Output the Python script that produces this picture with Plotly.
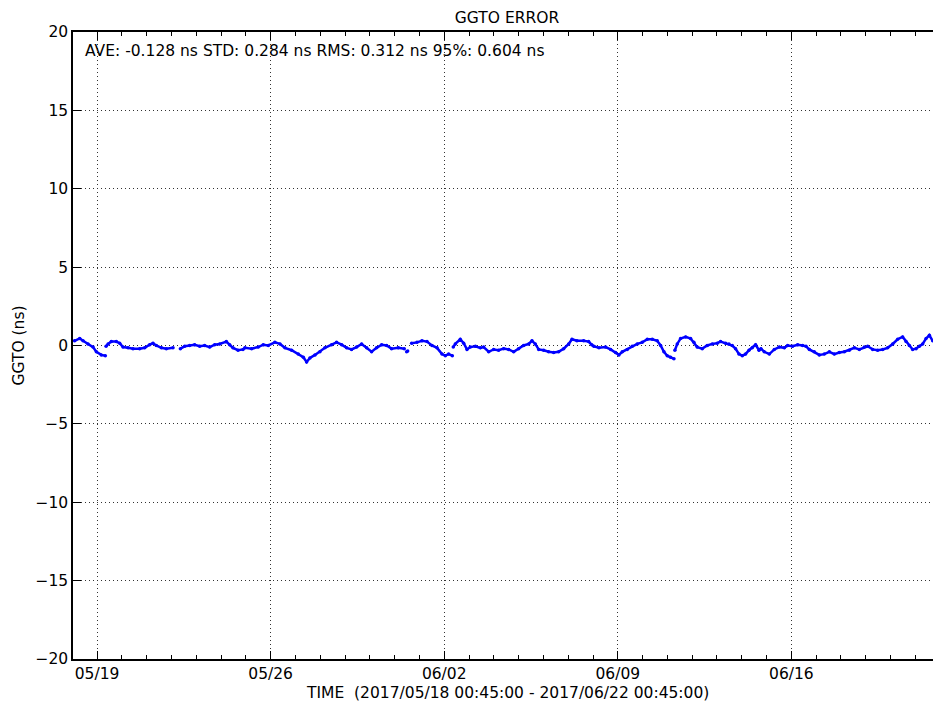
import pandas as pd
import plotly.graph_objects as go

# Time axis: hours elapsed since the start of the record, GGTO error in ns.
# None marks a break in the record.
start_time = "2017-05-18 00:45"
hours = [
    1.6, 6.5, 9.7, 14.5, 19.4, 22.6, 27.4, 31.3, 31.6,
    32.0, 34.0, 37.1, 41.9, 45.2, 48.4, 53.2, 58.1, 64.5, 69.4, 74.2, 77.4,
    80.6, 85.5, 90.3, 96.8, 100.0,
    103.9, 108.1, 112.9, 117.7, 122.6, 127.4, 132.3, 137.1, 141.9, 148.4,
    151.6, 154.8, 159.7, 164.5, 166.4, 172.9, 179.3, 184.1, 189.0, 195.4,
    200.3, 205.1, 211.6, 218.0, 222.9, 226.1, 229.3, 234.2, 239.0, 243.8,
    250.3, 255.1, 260.0, 264.8, 269.6, 274.5, 279.3, 284.2, 289.0, 293.8,
    298.7, 303.5, 308.3, 314.8, 320.6, 321.8,
    322.9, 323.9, 325.0,
    327.7, 332.9, 337.7, 342.6, 347.4, 352.3, 357.1, 360.3, 363.5, 367.1, 367.6,
    368.0, 370.0, 374.8, 378.1, 381.3, 384.5, 389.4, 394.2, 397.4, 402.3,
    407.1, 411.9, 416.8, 421.6, 426.5, 431.3, 436.1, 441.0, 444.2, 447.4,
    450.7, 455.5, 460.3, 465.2, 470.0, 474.9, 479.7, 482.9, 487.7, 494.2,
    499.0, 502.0, 504.1, 509.0, 515.4, 520.3, 525.1, 528.3, 531.6, 536.4,
    541.2, 546.1, 550.9, 555.8, 560.6, 565.4, 568.7, 571.9, 575.1, 578.3,
    581.6, 582.0,
    582.5, 584.8, 588.0, 592.9, 597.7, 600.9, 604.1, 609.0, 613.8, 618.7,
    623.5, 626.7, 631.6, 634.8, 638.0, 641.2, 644.5, 647.7, 650.9, 654.2,
    657.4, 660.6, 663.9, 665.8, 669.0, 673.9, 678.7, 683.5, 688.4, 691.6,
    696.4, 701.3, 706.1, 709.4, 712.6, 717.4, 722.3, 727.1, 732.0, 736.8,
    741.6, 746.5, 751.3, 756.2, 761.0, 765.8, 769.1, 773.9, 778.7, 783.6,
    788.4, 793.3, 798.1, 802.9, 806.2, 809.4, 812.6, 815.9, 819.1, 822.3,
    825.6, 828.8, 832.0,
]
ggto_ns = [
    0.30, 0.45, 0.30, 0.10, -0.10, -0.40, -0.60, -0.65, None,
    -0.05, 0.10, 0.25, 0.25, 0.15, -0.10, -0.15, -0.20, -0.20, -0.15, 0.05, 0.15,
    0.00, -0.15, -0.20, -0.15, None,
    -0.20, -0.05, 0.00, 0.05, -0.05, 0.00, -0.10, 0.05, 0.10, 0.25,
    0.05, -0.15, -0.30, -0.25, -0.15, -0.20, -0.10, 0.05, 0.00, 0.20,
    0.10, -0.15, -0.30, -0.55, -0.75, -1.05, -0.80, -0.60, -0.40, -0.15,
    0.05, 0.20, 0.05, -0.15, -0.25, -0.10, 0.10, -0.15, -0.40, -0.15,
    0.05, 0.00, -0.20, -0.15, -0.20, None,
    -0.40, -0.35, None,
    0.15, 0.20, 0.30, 0.25, 0.00, -0.15, -0.55, -0.65, -0.55, -0.65, None,
    -0.10, 0.10, 0.40, 0.15, -0.25, -0.10, -0.05, -0.15, -0.10, -0.40,
    -0.25, -0.30, -0.20, -0.25, -0.40, -0.20, 0.00, 0.10, 0.30, 0.10,
    -0.25, -0.30, -0.40, -0.45, -0.40, -0.20, 0.10, 0.40, 0.30, 0.30,
    0.25, 0.05, -0.05, -0.15, -0.10, -0.25, -0.45, -0.60, -0.40, -0.25,
    -0.05, 0.10, 0.20, 0.40, 0.40, 0.30, 0.00, -0.40, -0.65, -0.75,
    -0.85, None,
    -0.30, 0.10, 0.45, 0.55, 0.45, 0.20, -0.10, -0.20, 0.00, 0.10,
    0.15, 0.25, 0.15, 0.10, 0.00, -0.20, -0.55, -0.65, -0.55, -0.30,
    -0.15, 0.05, -0.30, -0.20, -0.40, -0.55, -0.25, -0.10, -0.15, 0.00,
    -0.05, 0.05, 0.00, -0.05, -0.25, -0.40, -0.60, -0.55, -0.40, -0.55,
    -0.45, -0.40, -0.30, -0.15, -0.25, -0.10, -0.05, -0.25, -0.30, -0.25,
    -0.15, 0.10, 0.40, 0.55, 0.25, 0.00, -0.25, -0.20, -0.05, 0.10,
    0.45, 0.65, 0.30,
]

y_ticks = [-20, -15, -10, -5, 0, 5, 10, 15, 20]
stats_text = "AVE: -0.128 ns STD: 0.284 ns RMS: 0.312 ns 95%: 0.604 ns"
x_title = "TIME  (2017/05/18 00:45:00 - 2017/06/22 00:45:00)"

t0 = pd.Timestamp(start_time)
times = [t0 + pd.Timedelta(hours=h) for h in hours]

FONT = "DejaVu Sans"
FS = 15.5
GRID = dict(showgrid=True, gridcolor="#333333", griddash="1px,3px", gridwidth=1)

fig = go.Figure()
fig.add_trace(go.Scatter(
    x=times, y=ggto_ns, mode="lines+markers",
    line=dict(color="#0000ff", width=2.5),
    marker=dict(color="#0000ff", size=3.5),
    connectgaps=False, showlegend=False,
))

fig.update_layout(
    width=933, height=702,
    margin=dict(l=73, r=0, t=32, b=43),
    paper_bgcolor="white", plot_bgcolor="white",
    font=dict(family=FONT, size=FS, color="black"),
    title=dict(text="GGTO ERROR", x=507 / 933, xanchor="center",
               y=1 - 18 / 702, yanchor="middle", font=dict(size=FS)),
    annotations=[
        dict(text=stats_text, xref="paper", yref="paper",
             x=10 / 860, y=1 - 19 / 627, xanchor="left", yanchor="middle",
             showarrow=False, font=dict(size=FS)),
        dict(text=x_title, xref="paper", yref="paper",
             x=(507 - 73) / 860, y=-(693 - 659) / 627,
             xanchor="center", yanchor="middle",
             showarrow=False, font=dict(size=FS)),
    ],
)

fig.update_xaxes(
    type="date",
    range=[t0, t0 + pd.Timedelta(hours=832.3)],
    tick0="2017-05-19", dtick=7 * 86400000, tickformat="%m/%d",
    ticks="inside", ticklen=8, tickwidth=1, tickcolor="black",
    minor=dict(dtick=86400000, tick0="2017-05-19", ticks="inside",
               ticklen=4, tickcolor="black", showgrid=False),
    showline=True, linecolor="black", linewidth=1.5, mirror="ticks",
    zeroline=False, tickfont=dict(size=FS),
    **GRID,
)
fig.update_yaxes(
    range=[-20, 20], tickvals=y_ticks,
    ticks="inside", ticklen=8, tickcolor="black",
    showline=True, linecolor="black", linewidth=1.5, mirror=False,
    zeroline=False,
    title=dict(text="GGTO (ns)", standoff=7, font=dict(size=FS)),
    tickfont=dict(size=FS),
    **GRID,
)

fig.write_html("out.html")
